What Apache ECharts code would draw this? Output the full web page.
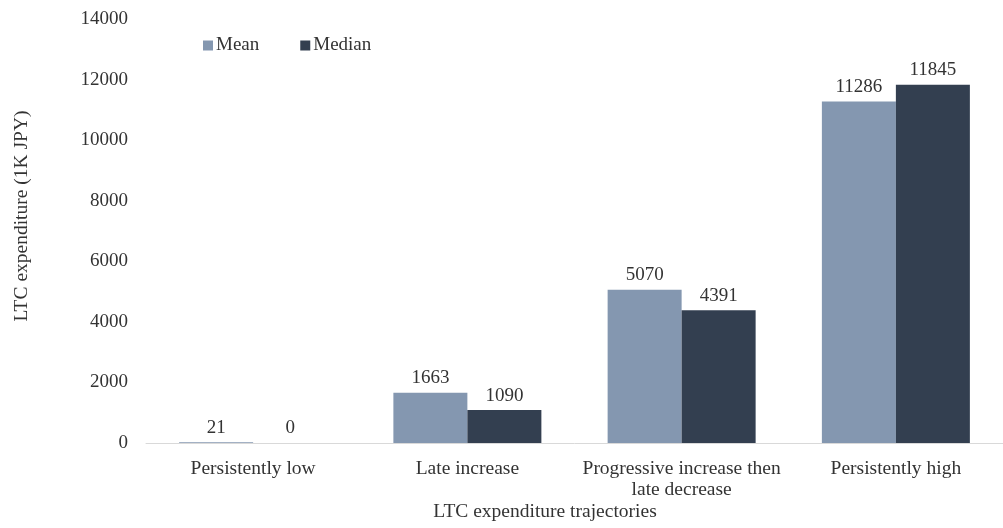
<!DOCTYPE html>
<html>
<head>
<meta charset="utf-8">
<script src="https://cdn.jsdelivr.net/npm/echarts@6/dist/echarts.min.js"></script>
<style>
html,body{margin:0;padding:0;background:#fff;}
#chart{width:1003px;height:528px;}
</style>
</head>
<body>
<div id="chart"></div>
<script>
const categories = ["Persistently low", "Late increase", "Progressive increase then\nlate decrease", "Persistently high"];
const meanValues = [21, 1663, 5070, 11286];
const medianValues = [0, 1090, 4391, 11845];
const seriesNames = ["Mean", "Median"];
const yAxisTitle = "LTC expenditure (1K JPY)";
const xAxisTitle = "LTC expenditure trajectories";

const FONT = "'Liberation Serif', 'Times New Roman', serif";
const TEXT = "#333333";

const chart = echarts.init(document.getElementById('chart'));
chart.setOption({
  animation: false,
  backgroundColor: '#ffffff',
  textStyle: { fontFamily: FONT, color: TEXT },
  legend: {
    left: 198, top: 31,
    itemWidth: 10, itemHeight: 10, itemGap: 41,
    icon: 'rect',
    textStyle: { fontFamily: FONT, fontSize: 19, color: TEXT, padding: [0, 0, 0, -2] },
    data: seriesNames
  },
  grid: { left: 146, top: 19.5, width: 864, height: 423.5, containLabel: false },
  xAxis: {
    type: 'category',
    data: categories,
    axisLine: { lineStyle: { color: '#d9d9d9', width: 1 } },
    axisTick: { show: false },
    axisLabel: { fontFamily: FONT, fontSize: 19.5, color: TEXT, margin: 15, lineHeight: 21, interval: 0 }
  },
  yAxis: {
    type: 'value',
    min: 0, max: 14000, interval: 2000,
    axisLine: { show: false },
    axisTick: { show: false },
    splitLine: { show: false },
    axisLabel: { fontFamily: FONT, fontSize: 19, color: TEXT, margin: 18, formatter: v => String(v) }
  },
  graphic: [
    {
      type: 'text', x: 22, y: 216, rotation: Math.PI / 2,
      style: { text: yAxisTitle, font: "19.5px 'Liberation Serif', serif", fill: TEXT, textAlign: 'center', textVerticalAlign: 'middle' }
    },
    {
      type: 'text', x: 545, y: 512,
      style: { text: xAxisTitle, font: "19.5px 'Liberation Serif', serif", fill: TEXT, textAlign: 'center', textVerticalAlign: 'middle' }
    }
  ],
  series: [
    {
      name: seriesNames[0], type: 'bar', data: meanValues,
      barWidth: 74, barGap: '0%',
      itemStyle: { color: '#8497b0' },
      label: { show: true, position: 'top', distance: 5, fontFamily: FONT, fontSize: 19, color: TEXT }
    },
    {
      name: seriesNames[1], type: 'bar', data: medianValues,
      barWidth: 74, barGap: '0%',
      itemStyle: { color: '#333f50' },
      label: { show: true, position: 'top', distance: 5, fontFamily: FONT, fontSize: 19, color: TEXT }
    }
  ]
});
</script>
</body>
</html>
